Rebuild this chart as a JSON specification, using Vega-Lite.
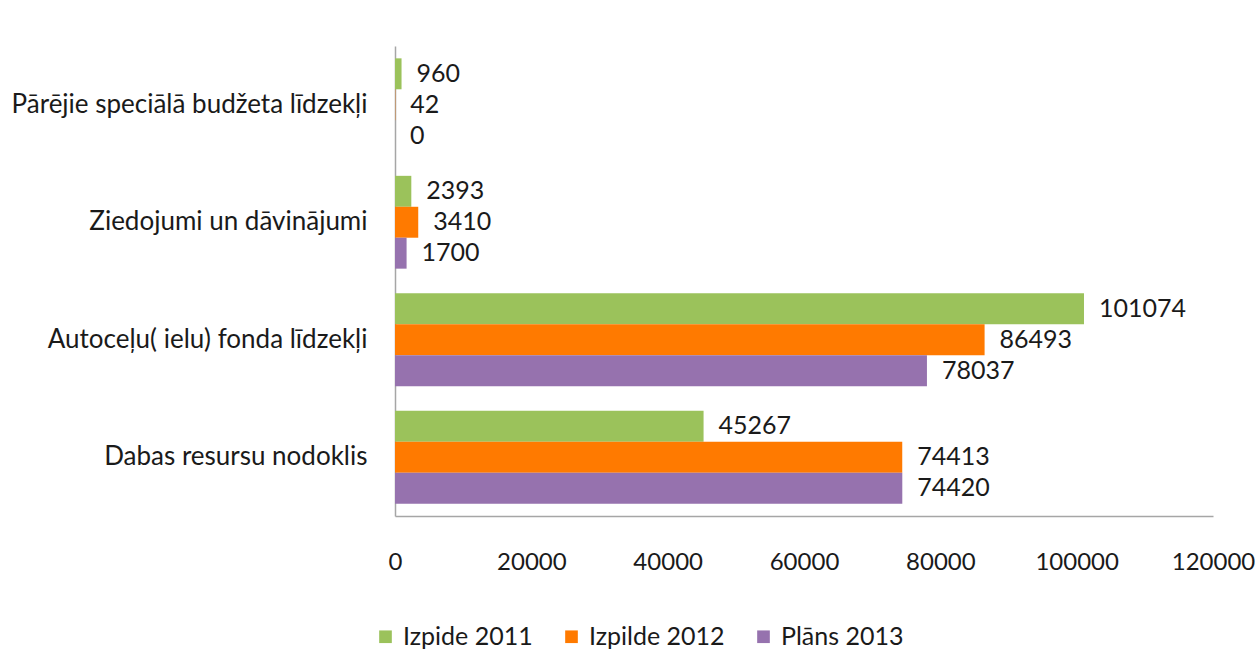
{
  "$schema": "https://vega.github.io/schema/vega-lite/v6.json",
  "autosize": {"type": "none"},
  "padding": {"left": 395, "top": 46, "right": 42, "bottom": 137},
  "width": 818,
  "height": 470,
  "background": "white",
  "data": {
    "values": [
      {"category": "Pārējie speciālā budžeta līdzekļi", "series": "Izpide 2011", "value": 960},
      {"category": "Pārējie speciālā budžeta līdzekļi", "series": "Izpilde 2012", "value": 42},
      {"category": "Pārējie speciālā budžeta līdzekļi", "series": "Plāns 2013", "value": 0},
      {"category": "Ziedojumi un dāvinājumi", "series": "Izpide 2011", "value": 2393},
      {"category": "Ziedojumi un dāvinājumi", "series": "Izpilde 2012", "value": 3410},
      {"category": "Ziedojumi un dāvinājumi", "series": "Plāns 2013", "value": 1700},
      {"category": "Autoceļu( ielu) fonda līdzekļi", "series": "Izpide 2011", "value": 101074},
      {"category": "Autoceļu( ielu) fonda līdzekļi", "series": "Izpilde 2012", "value": 86493},
      {"category": "Autoceļu( ielu) fonda līdzekļi", "series": "Plāns 2013", "value": 78037},
      {"category": "Dabas resursu nodoklis", "series": "Izpide 2011", "value": 45267},
      {"category": "Dabas resursu nodoklis", "series": "Izpilde 2012", "value": 74413},
      {"category": "Dabas resursu nodoklis", "series": "Plāns 2013", "value": 74420}
    ]
  },
  "encoding": {
    "y": {
      "field": "category", "type": "nominal",
      "sort": ["Pārējie speciālā budžeta līdzekļi", "Ziedojumi un dāvinājumi", "Autoceļu( ielu) fonda līdzekļi", "Dabas resursu nodoklis"],
      "scale": {"paddingInner": 0.21, "paddingOuter": 0.105},
      "axis": {
        "title": null, "ticks": false, "domainColor": "#a6a6a6", "domainWidth": 1.5,
        "labelFont": "Lato", "labelFontSize": 26, "labelColor": "#1a1a1a", "labelPadding": 28, "labelLimit": 400
      }
    },
    "yOffset": {"field": "series", "type": "nominal", "sort": ["Izpide 2011", "Izpilde 2012", "Plāns 2013"]},
    "x": {
      "field": "value", "type": "quantitative",
      "scale": {"domain": [0, 120000], "nice": false},
      "axis": {
        "title": null, "ticks": false, "grid": false, "values": [0, 20000, 40000, 60000, 80000, 100000, 120000],
        "format": "d", "domainColor": "#a6a6a6", "domainWidth": 1.5,
        "labelFont": "Lato", "labelFontSize": 24, "labelColor": "#1a1a1a", "labelPadding": 34, "labelFlush": false
      }
    }
  },
  "layer": [
    {
      "mark": {"type": "bar"},
      "encoding": {
        "color": {
          "field": "series", "type": "nominal",
          "sort": ["Izpide 2011", "Izpilde 2012", "Plāns 2013"],
          "scale": {"domain": ["Izpide 2011", "Izpilde 2012", "Plāns 2013"], "range": ["#9bc25b", "#ff7a00", "#9672ae"]},
          "legend": {
            "title": null, "orient": "none", "direction": "horizontal", "legendX": -22, "legendY": 578,
            "symbolType": "square", "symbolSize": 160, "symbolStrokeWidth": 0,
            "labelFont": "Lato", "labelFontSize": 25, "labelColor": "#1a1a1a", "columnPadding": 26, "labelOffset": 5
          }
        }
      }
    },
    {
      "mark": {"type": "text", "align": "left", "baseline": "middle", "dx": 15, "font": "Lato", "fontSize": 25, "color": "#1a1a1a"},
      "encoding": {"text": {"field": "value", "type": "quantitative", "format": "d"}}
    }
  ],
  "config": {"view": {"stroke": null}}
}
